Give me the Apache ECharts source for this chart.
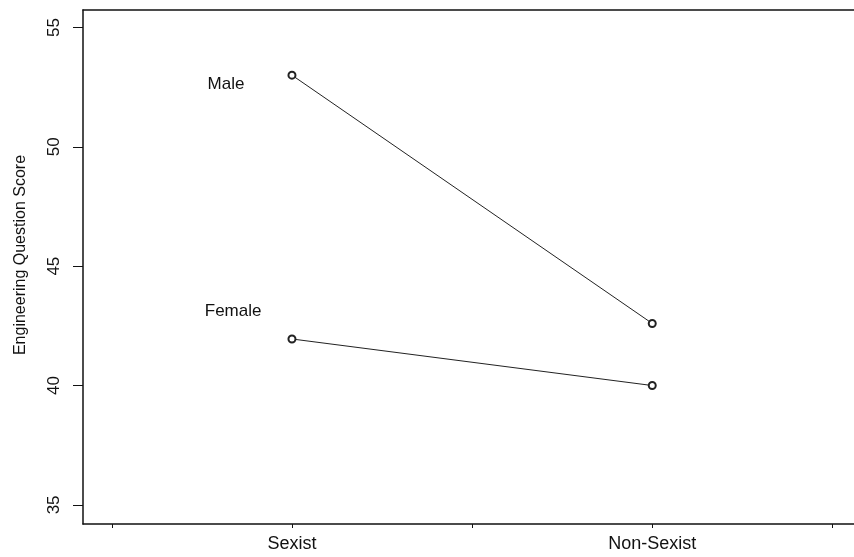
<!DOCTYPE html>
<html>
<head>
<meta charset="utf-8">
<script src="https://cdn.jsdelivr.net/npm/echarts@6/dist/echarts.min.js"></script>
<style>
  html, body { margin: 0; padding: 0; background: #fff; }
  #main { width: 854px; height: 557px; }
</style>
</head>
<body>
<div id="main"></div>
<script>
// categories sit at x = 1 and 2 on a value axis
var categories = ['Sexist', 'Non-Sexist'];
var catPos = [1, 2];
var xTicks = [0.5, 1, 1.5, 2, 2.5];
var yTicks = [35, 40, 45, 50, 55];
var maleScores = [53.0, 42.6];
var femaleScores = [41.95, 40.0];

var chart = echarts.init(document.getElementById('main'));

function pts(vals) {
  return vals.map(function (v, i) { return [catPos[i], v]; });
}

function series(name, vals, offset) {
  return {
    name: name,
    type: 'line',
    data: pts(vals),
    symbol: 'emptyCircle',
    symbolSize: 7,
    lineStyle: { color: '#222', width: 1 },
    itemStyle: { color: '#222', borderWidth: 1 },
    label: {
      show: true,
      position: 'left',
      offset: offset,
      fontFamily: 'Liberation Sans',
      fontSize: 17,
      color: '#111',
      formatter: function (p) { return p.dataIndex === 0 ? name : ''; }
    },
    emphasis: { disabled: true },
    animation: false
  };
}

chart.setOption({
  backgroundColor: '#fff',
  grid: { left: 83, right: 0, top: 10, bottom: 33, outerBoundsMode: 'none' },
  xAxis: [{
    type: 'value',
    min: 0.42,
    max: 2.56,
    axisLine: { lineStyle: { color: '#111', width: 1.5 } },
    axisTick: { show: true, length: 4, customValues: xTicks, lineStyle: { color: '#111' } },
    axisLabel: {
      customValues: catPos,
      formatter: function (v) { return categories[catPos.indexOf(v)] || ''; },
      fontFamily: 'Liberation Sans', fontSize: 18, color: '#111', margin: 11
    },
    splitLine: { show: false }
  }, {
    type: 'value',
    position: 'top',
    min: 0.42,
    max: 2.56,
    axisLine: { show: true, lineStyle: { color: '#111', width: 1.5 } },
    axisTick: { show: false },
    axisLabel: { show: false },
    splitLine: { show: false }
  }],
  yAxis: {
    type: 'value',
    min: 34.2,
    max: 55.73,
    name: 'Engineering Question Score',
    nameLocation: 'middle',
    nameGap: 54,
    nameTextStyle: { fontFamily: 'Liberation Sans', fontSize: 16, color: '#111', padding: [0, 0, 0, 24] },
    axisLine: { show: true, lineStyle: { color: '#111', width: 1.5 } },
    axisTick: { show: true, length: 10, customValues: yTicks, lineStyle: { color: '#111' } },
    axisLabel: {
      customValues: yTicks,
      rotate: 90,
      fontFamily: 'Liberation Sans', fontSize: 17, color: '#111', margin: 20
    },
    splitLine: { show: false }
  },
  series: [
    series('Male', maleScores, [-38, 9]),
    series('Female', femaleScores, [-21, -28])
  ]
});
</script>
</body>
</html>
